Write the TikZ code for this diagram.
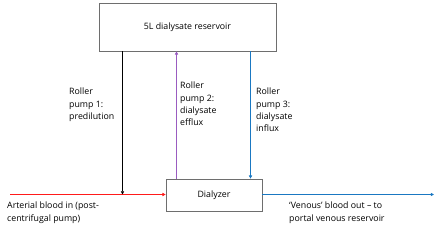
\documentclass[tikz,border=0pt]{standalone}
\usepackage{fontspec}
\setmainfont{Open Sans}
\usepackage{tikz}
\usetikzlibrary{arrows.meta,positioning,calc}
\definecolor{bloodred}{HTML}{FF1A1A}
\definecolor{effluxpurple}{HTML}{9A5CC0}
\definecolor{influxblue}{HTML}{1A78C2}
\definecolor{boxline}{HTML}{6E6E6E}
\tikzset{
  unitbox/.style={
    rectangle, draw=boxline, line width=0.7pt, fill=white,
    font=\fontsize{8.8}{10}\selectfont, align=center
  },
  flowarrow/.style={-{Triangle[length=3.2pt,width=3.2pt]}, line width=1pt, draw=#1},
  flowarrow/.default=black,
  flowlabel/.style={
    anchor=north west, inner sep=0pt, align=left,
    font=\fontsize{8.8}{12.2}\selectfont
  }
}
\begin{document}
\begin{tikzpicture}[x=1pt, y=-1pt]
\useasboundingbox (0,0) rectangle (440,229);
\node[unitbox, minimum width=177, minimum height=48] (res) at (187.5,27) {5L dialysate reservoir};
\node[unitbox, minimum width=96, minimum height=32] (dial) at (214,195) {Dialyzer};

\coordinate (artin) at (10,194.5);
\coordinate (mix) at (122.5,194.5);
\coordinate (venout) at (434,194.5);

\draw[flowarrow=bloodred] (artin) -- (artin -| dial.west);
\draw[flowarrow=black] (res.south -| mix) -- (mix);
\draw[flowarrow=effluxpurple] (dial.north -| 176.5,0) -- (res.south -| 176.5,0);
\draw[flowarrow=influxblue] (res.south -| 250.5,0) -- (dial.north -| 250.5,0);
\draw[flowarrow=influxblue] (venout -| dial.east) -- (venout);

\node[flowlabel] (pump1) at (69,88) {Roller\\pump 1:\\predilution};
\node[flowlabel] (pump2) at (180,82) {Roller\\pump 2:\\dialysate\\efflux};
\node[flowlabel] (pump3) at (256,88) {Roller\\pump 3:\\dialysate\\influx};
\node[flowlabel] (arterial) at (7,202) {Arterial blood in (post-\\centrifugal pump)};
\node[flowlabel] (venous) at (289,202) {‘Venous’ blood out – to\\portal venous reservoir};
\end{tikzpicture}
\end{document}
